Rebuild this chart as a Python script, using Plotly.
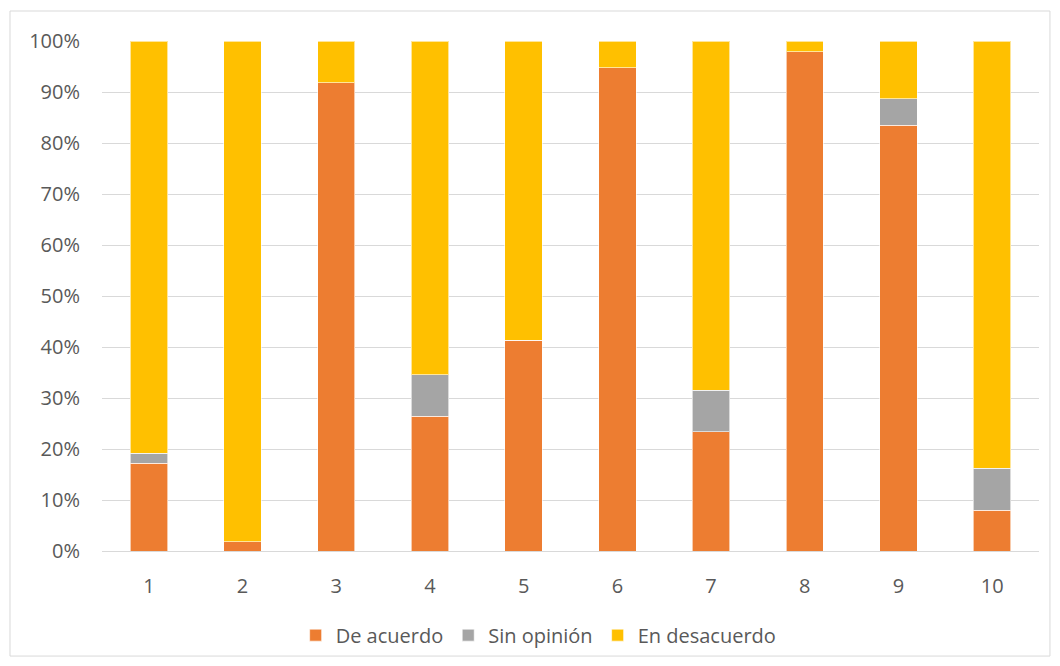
import plotly.graph_objects as go

categories = ["1", "2", "3", "4", "5", "6", "7", "8", "9", "10"]
de_acuerdo = [17.2, 1.8, 91.8, 26.4, 41.3, 94.8, 23.4, 97.9, 83.5, 8.0]
sin_opinion = [2.0, 0.0, 0.0, 8.2, 0.0, 0.0, 8.1, 0.0, 5.2, 8.2]
en_desacuerdo = [round(100 - a - b, 1) for a, b in zip(de_acuerdo, sin_opinion)]

series = [
    ("De acuerdo", de_acuerdo, "#ED7D31"),
    ("Sin opinión", sin_opinion, "#A5A5A5"),
    ("En desacuerdo", en_desacuerdo, "#FFC000"),
]

fig = go.Figure()
for name, vals, color in series:
    fig.add_trace(go.Bar(
        x=categories, y=[v / 100 for v in vals], name=name,
        marker=dict(color=color, line=dict(color="rgba(255,255,255,0.6)", width=1)),
    ))

font_family = "Open Sans, Lato, sans-serif"
fig.update_layout(
    barmode="stack",
    bargap=0.6,
    width=1060, height=666,
    margin=dict(l=94, r=29, t=33, b=123),
    paper_bgcolor="white", plot_bgcolor="white",
    font=dict(family=font_family, size=20, color="#595959"),
    showlegend=True,
    legend=dict(orientation="h", x=0.466, xanchor="center", y=-0.165, yanchor="middle",
                font=dict(size=20, color="#595959"), itemwidth=30, traceorder="normal"),
    yaxis=dict(range=[0, 1], tickformat=".0%", dtick=0.1, showgrid=True,
               gridcolor="#D9D9D9", gridwidth=1, zeroline=False, ticks="",
               ticklabelstandoff=21, showline=False, fixedrange=True),
    xaxis=dict(showgrid=False, showline=True, linecolor="#D9D9D9", linewidth=1,
               ticks="", ticklabelstandoff=17, type="category"),
    shapes=[dict(type="rect", xref="paper", yref="paper",
                 x0=-0.0982, x1=1.0117, y0=-0.206, y1=1.0588,
                 line=dict(color="#D9D9D9", width=1), fillcolor="rgba(0,0,0,0)", layer="below")],
)

fig.write_html("out.html")
